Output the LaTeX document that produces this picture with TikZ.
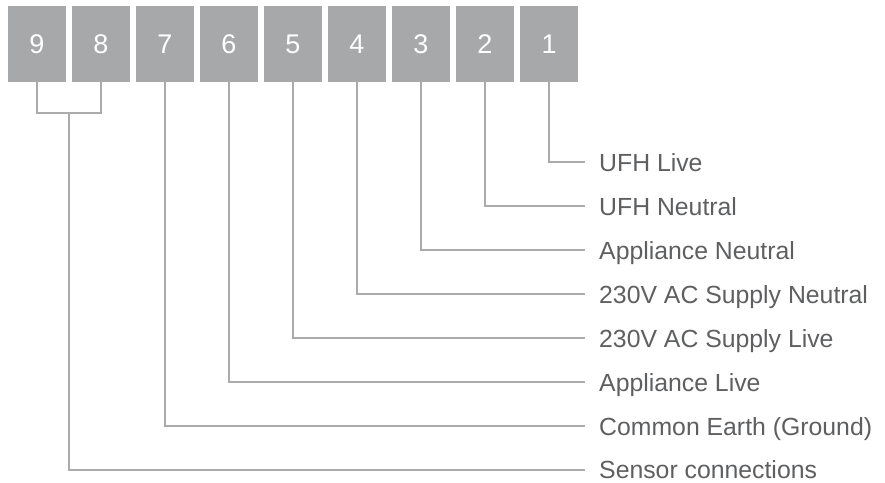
\documentclass[tikz,border=0pt]{standalone}
\usepackage{fontspec}
\setmainfont{Liberation Sans}
\definecolor{boxgrey}{HTML}{A7A8AA}
\definecolor{linegrey}{HTML}{ABABAB}
\definecolor{textgrey}{HTML}{5E5F61}
\begin{document}
\begin{tikzpicture}[x=1pt,y=-1pt,
  pinbox/.style={fill=boxgrey,draw=none,minimum width=58pt,minimum height=76pt,inner sep=0pt,
    text=white,font=\fontsize{27}{27}\selectfont},
  lbl/.style={anchor=west,inner xsep=14pt,inner ysep=0pt,text height=18pt,text depth=0pt,
    text=textgrey,font=\fontsize{24.8}{25}\selectfont},
  wire/.style={draw=linegrey,line width=2pt}]
\useasboundingbox (0,0) rectangle (885,482);
\foreach \n/\k in {9/0,8/1,7/2,6/3,5/4,4/5,3/6,2/7,1/8}{
  \node[pinbox] (b\n) at ({37+64*\k},44) {\n};
}
\node[lbl] (l1) at (585,162) {UFH Live};
\node[lbl] (l2) at (585,206) {UFH Neutral};
\node[lbl] (l3) at (585,250) {Appliance Neutral};
\node[lbl] (l4) at (585,294) {230V AC Supply Neutral};
\node[lbl] (l5) at (585,338) {230V AC Supply Live};
\node[lbl] (l6) at (585,382) {Appliance Live};
\node[lbl] (l7) at (585,426) {Common Earth (Ground)};
\node[lbl] (l8) at (585,469.5) {Sensor connections};
\coordinate (jn) at (69,113);
\foreach \n/\m in {1/1,2/2,3/3,4/4,5/5,6/6,7/7}{
  \draw[wire] (b\n.south) |- (l\m.west);
}
\draw[wire] (b9.south) |- (jn) -| (b8.south);
\draw[wire] (jn) |- (l8.west);
\end{tikzpicture}
\end{document}
